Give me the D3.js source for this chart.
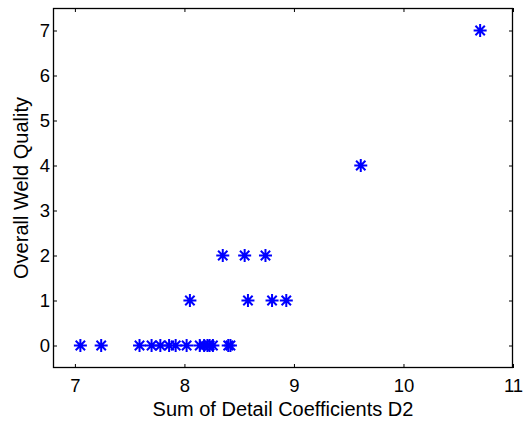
<!DOCTYPE html>
<html>
<head>
<meta charset="utf-8">
<script src="https://cdn.jsdelivr.net/npm/d3@7"></script>
<style>
  body { margin: 0; background: #fff; }
  svg text { font-family: "Liberation Sans", Arial, sans-serif; fill: #000; }
</style>
</head>
<body>
<div></div>
<script>
var width = 523;
var height = 421;
var margin = {top: 8, right: 10, bottom: 53, left: 53};

// sum of detail coefficients D2 and the matching weld quality
var coeffs = [7.05, 7.24, 7.59, 7.70, 7.78, 7.86, 7.92, 8.02, 8.14, 8.18, 8.21, 8.23, 8.26, 8.40, 8.42,
              8.05, 8.58, 8.80, 8.93,
              8.35, 8.55, 8.74,
              9.61,
              10.70];
var quality = [0, 0, 0, 0, 0, 0, 0, 0, 0, 0, 0, 0, 0, 0, 0,
               1, 1, 1, 1,
               2, 2, 2,
               4,
               7];
var xTicks = [7, 8, 9, 10, 11];
var yTicks = [0, 1, 2, 3, 4, 5, 6, 7];

var svg = d3.select("div")
			.append("svg")
			.attr("width", width)
			.attr("height", height);

var x = d3.scaleLinear()
			.domain([6.8, 11])
			.range([margin.left, width - margin.right]);

var y = d3.scaleLinear()
			.domain([-0.5, 7.5])
			.range([height - margin.bottom, margin.top]);

var tickLen = 4;
var fmt = d3.format("d");

// bottom & top axes, ticks pointing inward
svg.append("g")
	.attr("transform", "translate(0," + (height - margin.bottom) + ")")
	.call(d3.axisBottom(x).tickValues(xTicks).tickFormat(fmt).tickSizeInner(-tickLen).tickSizeOuter(0).tickPadding(11))
	.call(function(g) {
		g.select(".domain").remove();
		g.selectAll("text").style("font-size", "18.5px");
	});

svg.append("g")
	.attr("transform", "translate(0," + margin.top + ")")
	.call(d3.axisTop(x).tickValues(xTicks).tickSizeInner(-tickLen).tickSizeOuter(0).tickFormat(""))
	.call(function(g) { g.select(".domain").remove(); });

svg.append("g")
	.attr("transform", "translate(" + margin.left + ",0)")
	.call(d3.axisLeft(y).tickValues(yTicks).tickFormat(fmt).tickSizeInner(-tickLen).tickSizeOuter(0).tickPadding(3))
	.call(function(g) {
		g.select(".domain").remove();
		g.selectAll("text").style("font-size", "18.5px");
	});

svg.append("g")
	.attr("transform", "translate(" + (width - margin.right) + ",0)")
	.call(d3.axisRight(y).tickValues(yTicks).tickSizeInner(-tickLen).tickSizeOuter(0).tickFormat(""))
	.call(function(g) { g.select(".domain").remove(); });

// box
svg.append("rect")
	.attr("x", margin.left + 0.5)
	.attr("y", margin.top + 0.5)
	.attr("width", width - margin.left - margin.right - 1)
	.attr("height", height - margin.top - margin.bottom - 1)
	.attr("fill", "none")
	.attr("stroke", "#000")
	.attr("stroke-width", 1.3);

// star markers (plus + cross)
var r = 6.5;
var rd = r * 0.72;
svg.append("g").selectAll("path")
	.data(coeffs)
	.enter().append("path")
	.attr("d", function(d, i) {
		var cx = x(d), cy = y(quality[i]);
		return "M" + (cx - r) + "," + cy + "H" + (cx + r) +
			"M" + cx + "," + (cy - r) + "V" + (cy + r) +
			"M" + (cx - rd) + "," + (cy - rd) + "L" + (cx + rd) + "," + (cy + rd) +
			"M" + (cx - rd) + "," + (cy + rd) + "L" + (cx + rd) + "," + (cy - rd);
	})
	.attr("stroke", "#0000ff")
	.attr("stroke-width", 2)
	.attr("fill", "none");

svg.append("text")
	.attr("x", (margin.left + width - margin.right) / 2)
	.attr("y", 416)
	.attr("text-anchor", "middle")
	.style("font-size", "20px")
	.text("Sum of Detail Coefficients D2");

svg.append("text")
	.attr("transform", "translate(28," + ((margin.top + height - margin.bottom) / 2) + ") rotate(-90)")
	.attr("text-anchor", "middle")
	.style("font-size", "20px")
	.text("Overall Weld Quality");
</script>
</body>
</html>
